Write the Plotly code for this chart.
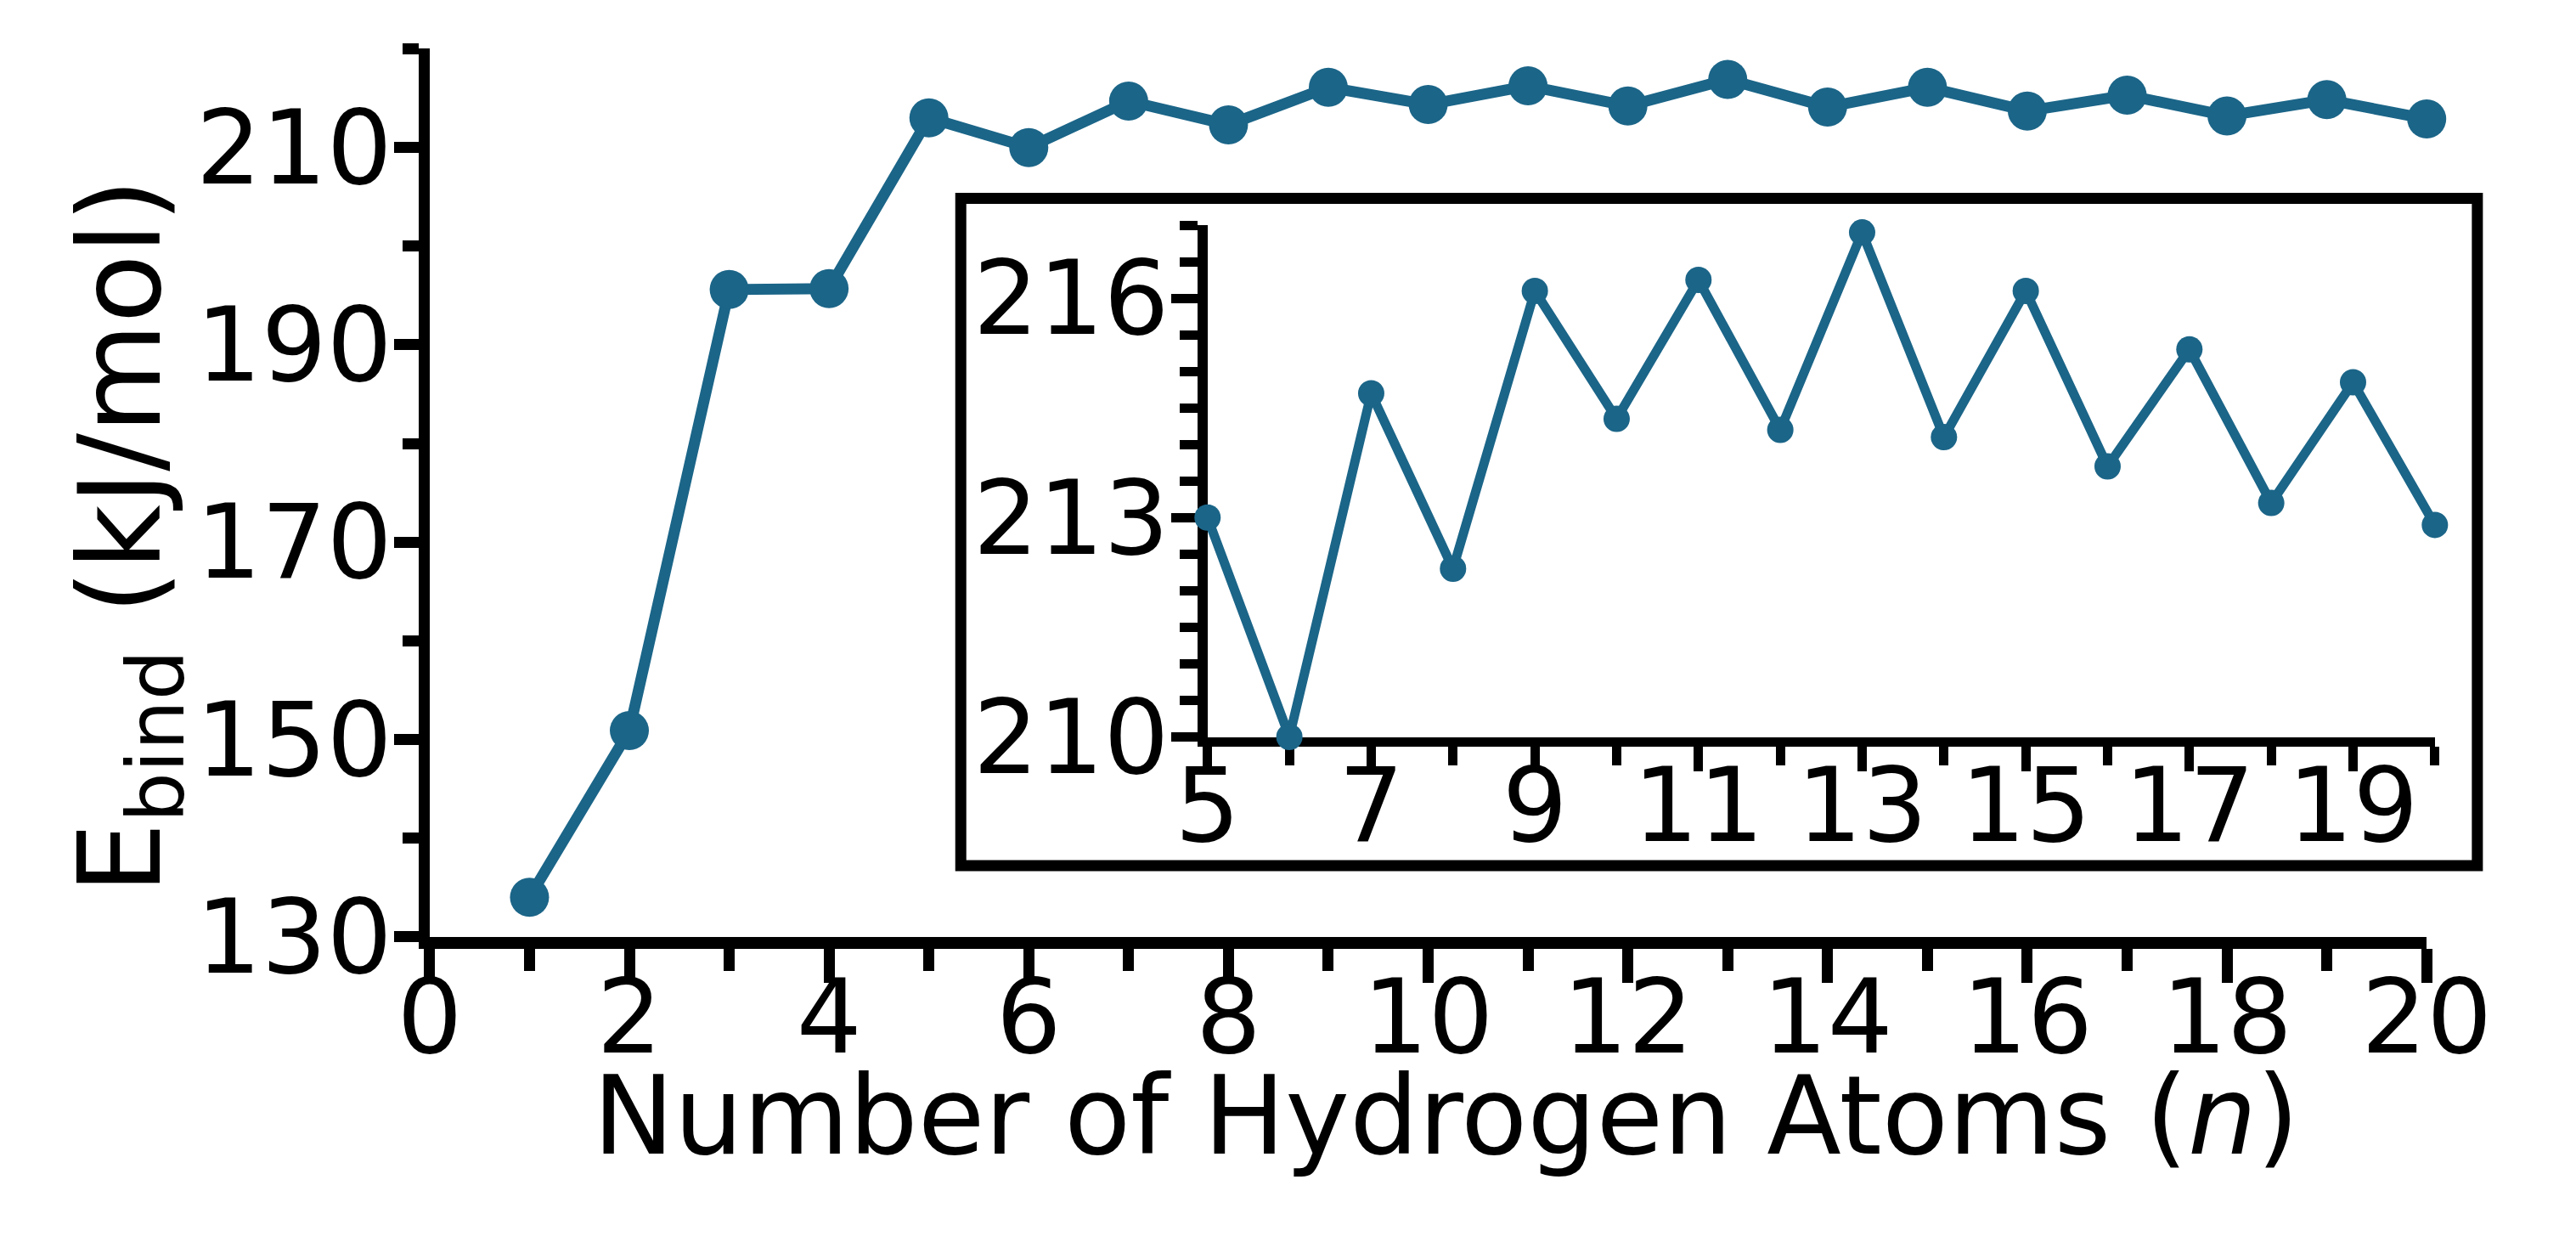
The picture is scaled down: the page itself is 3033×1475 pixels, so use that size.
import plotly.graph_objects as go

# ---- data ----
n_atoms = list(range(1, 21))
e_bind = [134.0, 150.9, 195.6, 195.7, 213.0, 210.0, 214.7, 212.3, 216.1, 214.35,
          216.25, 214.2, 216.9, 214.1, 216.1, 213.7, 215.3, 213.2, 214.85, 212.9]
inset_n = n_atoms[4:]
inset_e = e_bind[4:]

main_yticks = [130, 150, 170, 190, 210]
inset_xticks = [5, 7, 9, 11, 13, 15, 17, 19]
inset_yticks = [210, 213, 216]

COLOR = "#1b6588"
FONT = "DejaVu Sans"
W, H = 3033, 1475

fig = go.Figure()
fig.add_trace(go.Scatter(x=n_atoms, y=e_bind, mode="lines+markers",
                         line=dict(color=COLOR, width=13),
                         marker=dict(color=COLOR, size=46),
                         cliponaxis=False,
                         xaxis="x", yaxis="y", showlegend=False))
fig.add_trace(go.Scatter(x=inset_n, y=inset_e, mode="lines+markers",
                         line=dict(color=COLOR, width=11),
                         marker=dict(color=COLOR, size=31),
                         cliponaxis=False,
                         xaxis="x2", yaxis="y2", showlegend=False))

tickfont = dict(family=FONT, size=121, color="black")

fig.update_layout(
    width=W, height=H,
    margin=dict(l=0, r=0, t=0, b=0),
    paper_bgcolor="white", plot_bgcolor="rgba(0,0,0,0)",
    font=dict(family=FONT, color="black"),
    xaxis=dict(domain=[478 / W, 2922 / W], range=[0, 20], tickmode="linear", tick0=0, dtick=2,
               showgrid=False, zeroline=False, showline=True, linecolor="black", linewidth=14,
               ticks="outside", ticklen=40, tickwidth=13, tickcolor="black", tickfont=tickfont,
               ticklabelstandoff=-63,
               minor=dict(dtick=1, tick0=0, ticks="outside", ticklen=26, tickwidth=13, tickcolor="black", showgrid=False),
               anchor="y"),
    yaxis=dict(domain=[(H - 1150) / H, (H - 52) / H], range=[130, 220], tickmode="array", tickvals=main_yticks,
               showgrid=False, zeroline=False, showline=True, linecolor="black", linewidth=13,
               ticks="outside", ticklen=29, tickwidth=13, tickcolor="black", tickfont=tickfont,
               ticklabelstandoff=-22,
               minor=dict(dtick=10, tick0=130, ticks="outside", ticklen=19, tickwidth=13, tickcolor="black", showgrid=False),
               anchor="x"),
    xaxis2=dict(domain=[1430 / W, 2932 / W], range=[5, 20], tickmode="array", tickvals=inset_xticks,
                showgrid=False, zeroline=False, showline=True, linecolor="black", linewidth=11,
                ticks="outside", ticklen=29, tickwidth=11, tickcolor="black", tickfont=tickfont,
                ticklabelstandoff=-63, layer="below traces",
                minor=dict(dtick=1, tick0=5, ticks="outside", ticklen=22, tickwidth=11, tickcolor="black", showgrid=False),
                anchor="y2"),
    yaxis2=dict(domain=[(H - 903) / H, (H - 270) / H], range=[210, 217], tickmode="array", tickvals=inset_yticks,
                showgrid=False, zeroline=False, showline=True, linecolor="black", linewidth=12,
                ticks="outside", ticklen=31, tickwidth=11, tickcolor="black", tickfont=tickfont,
                ticklabelstandoff=-22, layer="below traces",
                minor=dict(dtick=0.5, tick0=210, ticks="outside", ticklen=21, tickwidth=11, tickcolor="black", showgrid=False),
                anchor="x2"),
    shapes=[dict(type="rect", xref="paper", yref="paper",
                 x0=1128 / W, x1=2984 / W, y0=(H - 1062) / H, y1=(H - 237) / H,
                 line=dict(color="black", width=13), fillcolor="white", layer="below")],
    annotations=[
        dict(text="Number of Hydrogen Atoms (<i>n</i>)", xref="paper", yref="paper",
             x=1722 / W, y=(H - 1372) / H, xanchor="center", yanchor="middle", showarrow=False,
             font=dict(family=FONT, size=128, color="black")),
        dict(text="E<sub>bind</sub> (kJ/mol)", xref="paper", yref="paper", textangle=-90,
             x=110 / W, y=(H - 655) / H, xanchor="center", yanchor="middle", showarrow=False,
             font=dict(family=FONT, size=133, color="black")),
    ],
)

fig.write_html("out.html")
